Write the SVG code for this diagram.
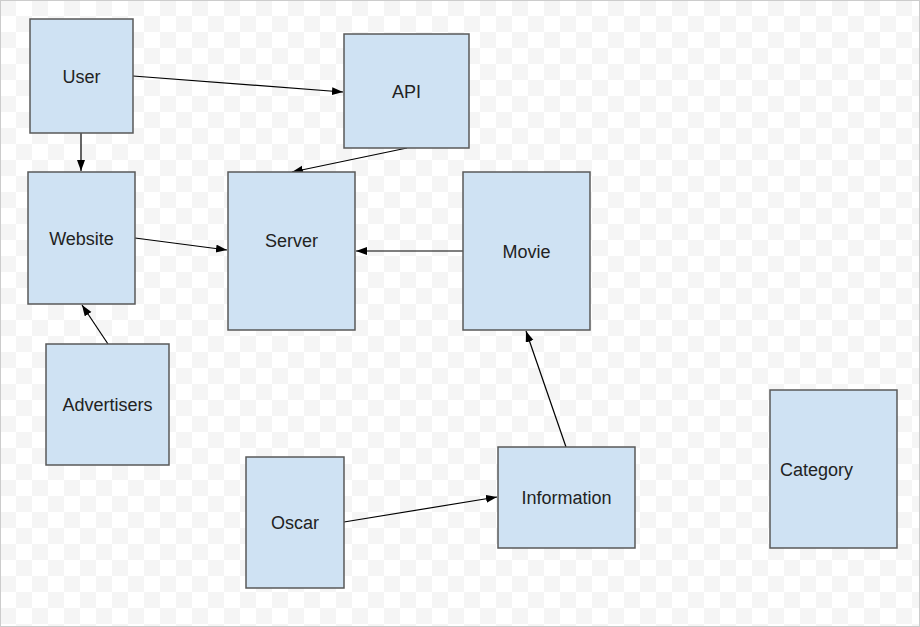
<svg xmlns="http://www.w3.org/2000/svg" width="920" height="627" viewBox="0 0 920 627">
<defs>
<pattern id="chk" x="0" y="0" width="32" height="32" patternUnits="userSpaceOnUse">
<rect width="32" height="32" fill="#ffffff"/>
<rect x="0" y="0" width="16" height="16" fill="#f5f5f5"/>
<rect x="16" y="16" width="16" height="16" fill="#f5f5f5"/>
</pattern>
<marker id="arr" markerUnits="userSpaceOnUse" markerWidth="12" markerHeight="10" refX="11" refY="4" orient="auto">
<path d="M0,0 L11,4 L0,8 Z" fill="#000"/>
</marker>
<style>
.box{fill:#cfe2f3;stroke:#595959;stroke-width:1.5}
.lbl{font-family:"Liberation Sans",Arial,sans-serif;font-size:18px;fill:#222;text-anchor:middle;dominant-baseline:central}
.edge{stroke:#000;stroke-width:1.2;fill:none;marker-end:url(#arr)}
</style>
</defs>
<rect width="920" height="627" fill="url(#chk)"/>
<rect x="0.5" y="0.5" width="919" height="626" fill="none" stroke="#cccccc" stroke-width="1"/>
<g id="connectors">
<line class="edge" x1="133" y1="76" x2="343" y2="92"/>
<line class="edge" x1="81" y1="133" x2="81" y2="171"/>
<line class="edge" x1="407" y1="148" x2="292" y2="172"/>
<line class="edge" x1="135" y1="238" x2="227" y2="250"/>
<line class="edge" x1="463" y1="251" x2="356" y2="251"/>
<line class="edge" x1="108" y1="344" x2="82" y2="305"/>
<line class="edge" x1="344" y1="522" x2="497" y2="497"/>
<line class="edge" x1="566" y1="447" x2="526" y2="331"/>
</g>
<g id="user"><rect class="box" x="30" y="19" width="103" height="114"/><text class="lbl" x="81.5" y="77">User</text></g>
<g id="api"><rect class="box" x="344" y="34" width="125" height="114"/><text class="lbl" x="406.5" y="92">API</text></g>
<g id="website"><rect class="box" x="28" y="172" width="107" height="132"/><text class="lbl" x="81.5" y="239">Website</text></g>
<g id="server"><rect class="box" x="228" y="172" width="127" height="158"/><text class="lbl" x="291.5" y="241">Server</text></g>
<g id="movie"><rect class="box" x="463" y="172" width="127" height="158"/><text class="lbl" x="526.5" y="252">Movie</text></g>
<g id="advertisers"><rect class="box" x="46" y="344" width="123" height="121"/><text class="lbl" x="107.5" y="405">Advertisers</text></g>
<g id="oscar"><rect class="box" x="246" y="457" width="98" height="131"/><text class="lbl" x="295" y="523">Oscar</text></g>
<g id="information"><rect class="box" x="498" y="447" width="137" height="101"/><text class="lbl" x="566.5" y="498">Information</text></g>
<g id="category"><rect class="box" x="770" y="390" width="127" height="158"/><text class="lbl" x="780" y="470" style="text-anchor:start">Category</text></g>
</svg>
